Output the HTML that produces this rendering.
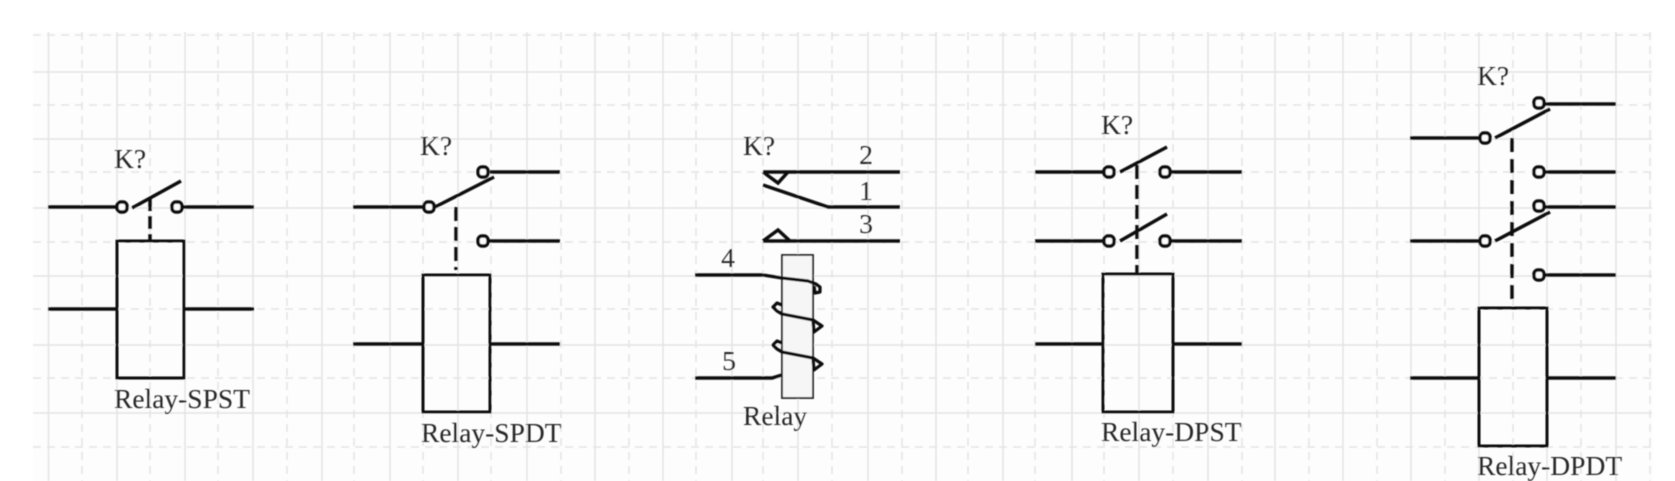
<!DOCTYPE html>
<html>
<head>
<meta charset="utf-8">
<style>
html,body{margin:0;padding:0;background:#fff}
svg{display:block}
text{font-family:"Liberation Serif",serif;font-size:27.5px;fill:#262626}
</style>
</head>
<body>
<svg width="1675" height="481" viewBox="0 0 1675 481" xmlns="http://www.w3.org/2000/svg">
<defs>
<filter id="b" x="-2%" y="-2%" width="104%" height="104%"><feGaussianBlur stdDeviation="0.45"/></filter>
<g id="c"><rect x="-5" y="-5" width="10" height="10" rx="4" fill="#fdfdfd" stroke="#111" stroke-width="3.400"/></g>
</defs>
<rect width="1675" height="481" fill="#fff"/>
<rect x="33" y="32" width="1620" height="449" fill="#fdfdfd"/>
<g filter="url(#b)">
<g stroke="#e4e4e4" stroke-width="1.500" fill="none">
<path d="M33 72H1652M33 139H1652M33 208H1652M33 276H1652M33 345H1652M33 413H1652"/>
<path d="M48.500 32V481M117 32V481M185 32V481M253 32V481M322 32V481M390 32V481M458 32V481M527 32V481M595 32V481M663 32V481M732 32V481M798 32V481M868 32V481M936 32V481M1003 32V481M1072 32V481M1139 32V481M1208 32V481M1275 32V481M1343 32V481M1411 32V481M1479 32V481M1547 32V481M1616 32V481"/>
<path stroke-dasharray="8 6" d="M33 35H1652M33 105H1652M33 172H1652M33 242H1652M33 309H1652M33 378H1652M33 447H1652"/>
<path stroke-dasharray="8 6" d="M82 32V481M150 32V481M218 32V481M287 32V481M354 32V481M423 32V481M491 32V481M561 32V481M629 32V481M696 32V481M763 32V481M832 32V481M902 32V481M968 32V481M1035 32V481M1104 32V481M1173 32V481M1242 32V481M1309 32V481M1377 32V481M1445 32V481M1513 32V481M1581 32V481M1650 32V481"/>
</g>

<g fill="none" stroke="#111" stroke-width="3.500">
<!-- SPST -->
<path d="M48 207H118M182 207H254M132 208L181 181M48 309H117M184 309H254"/>
<path d="M150 198V241" stroke-dasharray="13 5"/>
<rect x="117" y="241" width="67" height="137" stroke-width="3"/>
<!-- SPDT -->
<path d="M353 207H424M435 207L494 177M490 172H560M489 241H560M353 344H423M490 344H560"/>
<path d="M456 207V270" stroke-dasharray="14 6"/>
<rect x="423" y="275" width="67" height="137" stroke-width="3"/>
<!-- Relay -->
<path d="M763 172H900M763 172L778 183L788 172M763 185L828 207H900M763 241H900M763 241L778 230L790 241"/>
<path d="M695 275H763"/>
<path d="M695 378H772L782 375"/>
<!-- DPST -->
<path d="M1035 172H1104M1120 172L1167 147M1170 172H1242M1035 241H1104M1120 241L1167 214M1170 241H1242M1035 344H1103M1173 344H1242"/>
<path d="M1137 165V274" stroke-dasharray="14 6"/>
<rect x="1103" y="274" width="70" height="138" stroke-width="3"/>
<!-- DPDT -->
<path d="M1410 138H1480M1495 138L1550 109M1545 104H1616M1545 172H1616M1545 207H1616M1410 241H1480M1495 241L1550 212M1545 275H1616M1410 378H1479M1547 378H1616"/>
<path d="M1512 138V302" stroke-dasharray="14 7"/>
<rect x="1479" y="308" width="68" height="138" stroke-width="3"/>
</g>
<rect x="782" y="255" width="31" height="143" fill="#f6f6f6" stroke="#222" stroke-width="1.800"/>
<g fill="none" stroke="#111" stroke-width="3.200" stroke-linejoin="round">
<path d="M763 275L782 278L808 281L816 284L820 287L820 292L815 293L814 286"/>
<path d="M782 305L777 303L773 307L777 311L782 314L808 319L813 320L822 326L814 332L813 321"/>
<path d="M782 343L777 341L773 345L777 349L782 352L808 357L813 358L822 364L814 370L813 359"/>
</g>
<use href="#c" x="122" y="207"/><use href="#c" x="177" y="207"/>
<use href="#c" x="429" y="207"/><use href="#c" x="483" y="172"/><use href="#c" x="483" y="241"/>
<use href="#c" x="1109" y="172"/><use href="#c" x="1165" y="172"/><use href="#c" x="1109" y="241"/><use href="#c" x="1165" y="241"/>
<use href="#c" x="1485" y="138"/><use href="#c" x="1539" y="103"/><use href="#c" x="1539" y="172"/><use href="#c" x="1539" y="206"/><use href="#c" x="1485" y="241"/><use href="#c" x="1539" y="275"/>

<text x="114" y="168">K?</text>
<text x="114" y="408">Relay-SPST</text>
<text x="420" y="155">K?</text>
<text x="421" y="442">Relay-SPDT</text>
<text x="743" y="155">K?</text>
<text x="866" y="164" text-anchor="middle">2</text>
<text x="866" y="200" text-anchor="middle">1</text>
<text x="866" y="233" text-anchor="middle">3</text>
<text x="728" y="267" text-anchor="middle">4</text>
<text x="729" y="370" text-anchor="middle">5</text>
<text x="743" y="425">Relay</text>
<text x="1101" y="134">K?</text>
<text x="1101" y="441">Relay-DPST</text>
<text x="1477" y="85">K?</text>
<text x="1477" y="475">Relay-DPDT</text>
</g>
</svg>
</body>
</html>
